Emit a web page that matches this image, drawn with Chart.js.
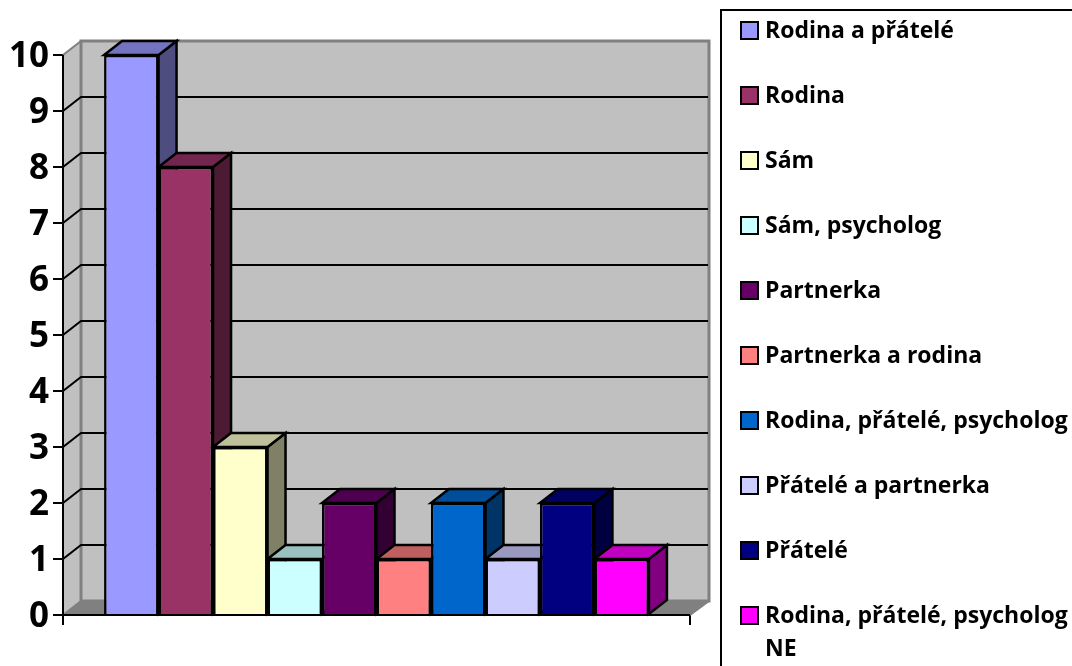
<!DOCTYPE html>
<html lang="cs">
<head>
<meta charset="utf-8">
<title>Graf</title>
<style>html,body{margin:0;padding:0;background:#fff;overflow:hidden}canvas{display:block}</style>
<script src="https://cdn.jsdelivr.net/npm/chart.js@4"></script>
</head>
<body>
<canvas id="c" width="1072" height="666"></canvas>
<script>
const seriesNames = ["Rodina a přátelé","Rodina","Sám","Sám, psycholog","Partnerka","Partnerka a rodina","Rodina, přátelé, psycholog","Přátelé a partnerka","Přátelé","Rodina, přátelé, psycholog NE"];
const seriesValues = [10,8,3,1,2,1,2,1,2,1];
const seriesColors = ["#9999FF","#993366","#FFFFCC","#CCFFFF","#660066","#FF8080","#0066CC","#CCCCFF","#000080","#FF00FF"];
const categories = [""];
const DX = 18, DY = 14;

function shade(hex, k){
  const n = parseInt(hex.slice(1),16);
  const f = v => Math.round(v*k);
  return `rgb(${f(n>>16&255)},${f(n>>8&255)},${f(n&255)})`;
}
function poly(ctx, pts, fill, stroke, lw){
  ctx.beginPath();
  pts.forEach((p,i)=> i?ctx.lineTo(p[0],p[1]):ctx.moveTo(p[0],p[1]));
  ctx.closePath();
  if(fill){ctx.fillStyle=fill;ctx.fill();}
  if(stroke){ctx.strokeStyle=stroke;ctx.lineWidth=lw||2;ctx.lineJoin='miter';ctx.stroke();}
}
const box3d = {
  id:'box3d',
  beforeDatasetsDraw(chart){
    const ctx=chart.ctx, y=chart.scales.y, a=chart.chartArea;
    const L=a.left,R=a.right,T=y.getPixelForValue(10),B=y.getPixelForValue(0);
    ctx.save();
    poly(ctx,[[L,B],[R,B],[R+DX+1,B-DY],[L+DX,B-DY]],'#808080');
    poly(ctx,[[L,B],[L+DX,B-DY],[L+DX,T-DY],[L,T]],'#C0C0C0');
    poly(ctx,[[L+DX,T-DY],[R+DX+1,T-DY],[R+DX+1,B-DY],[L+DX,B-DY]],'#C0C0C0','#808080',3);
    ctx.strokeStyle='#808080';ctx.lineWidth=2;
    ctx.beginPath();ctx.moveTo(L,T);ctx.lineTo(L+DX,T-DY);ctx.moveTo(L,B);ctx.lineTo(L+DX,B-DY);
    ctx.moveTo(R,B);ctx.lineTo(R+DX+1,B-DY);ctx.stroke();
    ctx.strokeStyle='#000';ctx.lineWidth=2;
    y.ticks.forEach(t=>{
      if(t.value===0||t.value===10) return;
      const p=y.getPixelForValue(t.value);
      ctx.beginPath();ctx.moveTo(L,p);ctx.lineTo(L+DX,p-DY);ctx.lineTo(R+DX,p-DY);ctx.stroke();
    });
    chart.data.datasets.forEach((ds,i)=>{
      const el=chart.getDatasetMeta(i).data[0];
      const hw=el.width/2, x0=el.x-hw, x1=el.x+hw, top=el.y, bot=el.base;
      poly(ctx,[[x1,top],[x1+DX,top-DY],[x1+DX,bot-DY],[x1,bot]],shade(ds.backgroundColor,.5),'#000',2.5);
      poly(ctx,[[x0,top],[x1,top],[x1+DX,top-DY],[x0+DX,top-DY]],shade(ds.backgroundColor,.75),'#000',2.5);
    });
    ctx.restore();
  },
  afterDraw(chart){
    const ctx=chart.ctx;
    ctx.save();
    const a=chart.chartArea;
    ctx.strokeStyle='#000';ctx.lineWidth=2;
    ctx.beginPath();ctx.moveTo(a.left,a.top);ctx.lineTo(a.left,a.bottom);ctx.lineTo(a.right,a.bottom);ctx.stroke();
    ctx.strokeRect(721,10,400,700);
    ctx.font='700 23px "Open Sans",sans-serif';
    ctx.textBaseline='middle';ctx.textAlign='left';
    chart.data.datasets.forEach((ds,i)=>{
      const cy=30.5+i*65;
      ctx.fillStyle=ds.backgroundColor;
      ctx.fillRect(741,cy-8.5,17,17);
      ctx.strokeRect(741,cy-8.5,17,17);
      ctx.fillStyle='#000';
      const lines=[];let cur='';
      ds.label.split(' ').forEach(w=>{
        const t=cur?cur+' '+w:w;
        if(ctx.measureText(t).width>310&&cur){lines.push(cur);cur=w;}else cur=t;
      });
      lines.push(cur);
      lines.forEach((l,k)=>ctx.fillText(l,765,cy+1+k*33));
    });
    ctx.restore();
  }
};
new Chart(document.getElementById('c'),{
  type:'bar',
  data:{labels:categories,datasets:seriesNames.map((n,i)=>({
    label:n,data:[seriesValues[i]],backgroundColor:seriesColors[i],borderColor:'#000',borderWidth:2.5,
    categoryPercentage:0.869,barPercentage:1
  }))},
  options:{
    responsive:false,animation:false,
    layout:{padding:{top:55,bottom:51,left:0,right:382}},
    plugins:{legend:{display:false},tooltip:{enabled:false},title:{display:false}},
    scales:{
      x:{offset:true,afterFit(s){s.height=0},
        grid:{drawOnChartArea:false,drawTicks:true,tickLength:10,color:'#000',lineWidth:2,offset:true},
        border:{display:false},ticks:{display:false}},
      y:{min:0,max:10,afterFit(s){s.width=63},
        grid:{drawOnChartArea:false,color:'#000',lineWidth:2,tickLength:10,drawTicks:true},
        border:{color:'#000',width:2},
        ticks:{stepSize:1,padding:4,labelOffset:2,color:'#000',font:{family:'"Open Sans",sans-serif',weight:'700',size:35}}}
    }
  },
  plugins:[box3d]
});
</script>
</body>
</html>
